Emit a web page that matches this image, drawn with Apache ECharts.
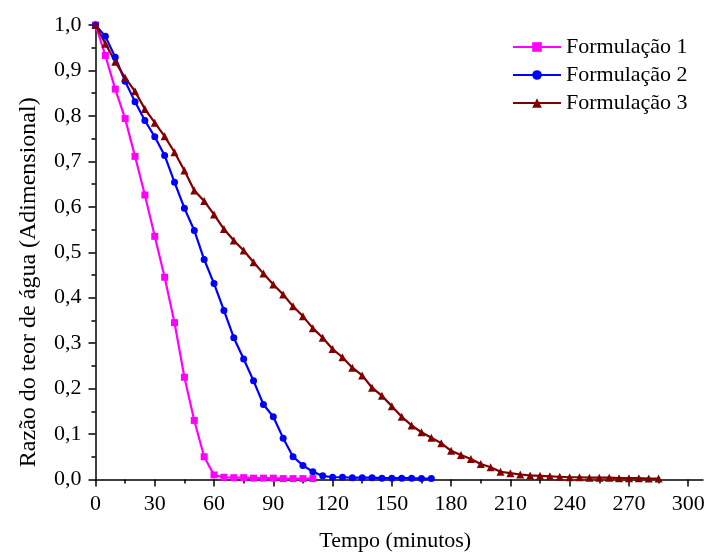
<!DOCTYPE html>
<html>
<head>
<meta charset="utf-8">
<script src="https://cdn.jsdelivr.net/npm/echarts@6/dist/echarts.min.js"></script>
<style>
html,body{margin:0;padding:0;background:#fff;}
#chart{width:707px;height:552px;}
</style>
</head>
<body>
<div id="chart"></div>
<script>
const seriesNames = ['Formulação 1', 'Formulação 2', 'Formulação 3'];
const t1 = [0,5,10,15,20,25,30,35,40,45,50,55,60,65,70,75,80,85,90,95,100,105,110];
const f1 = [1.0,0.933,0.859,0.794,0.711,0.626,0.535,0.445,0.345,0.225,0.130,0.050,0.010,0.005,0.004,0.004,0.003,0.003,0.003,0.002,0.002,0.002,0.002];
const t2 = [0,5,10,15,20,25,30,35,40,45,50,55,60,65,70,75,80,85,90,95,100,105,110,115,120,125,130,135,140,145,150,155,160,165,170];
const f2 = [1.0,0.975,0.929,0.876,0.831,0.790,0.754,0.713,0.654,0.597,0.548,0.484,0.431,0.372,0.312,0.265,0.217,0.165,0.138,0.091,0.050,0.031,0.017,0.008,0.005,0.005,0.004,0.004,0.004,0.003,0.003,0.003,0.003,0.002,0.002];
const t3 = [0,5,10,15,20,25,30,35,40,45,50,55,60,65,70,75,80,85,90,95,100,105,110,115,120,125,130,135,140,145,150,155,160,165,170,175,180,185,190,195,200,205,210,215,220,225,230,235,240,245,250,255,260,265,270,275,280,285];
const f3 = [1.0,0.959,0.919,0.884,0.854,0.815,0.785,0.755,0.720,0.680,0.636,0.613,0.583,0.551,0.526,0.504,0.478,0.453,0.429,0.407,0.381,0.359,0.333,0.312,0.287,0.269,0.246,0.229,0.202,0.184,0.161,0.138,0.119,0.104,0.092,0.080,0.063,0.054,0.045,0.034,0.027,0.017,0.014,0.011,0.009,0.008,0.007,0.006,0.005,0.005,0.004,0.004,0.004,0.003,0.003,0.003,0.002,0.002];
const xMajorTicks = [0,30,60,90,120,150,180,210,240,270,300];
const xMinorTicks = [15,45,75,105,135,165,195,225,255,285];

const pairs = (t, v) => t.map((x, i) => [x, v[i]]);
const FONT = 'Liberation Serif';
const FS = 22;
const chart = echarts.init(document.getElementById('chart'), null, {renderer: 'canvas'});
const axisLineStyle = {color: '#000', width: 1.5};
chart.setOption({
  animation: false,
  backgroundColor: '#fff',
  grid: {left: 95.5, right: 4, top: 25, bottom: 72.5, containLabel: false, outerBoundsMode: 'none'},
  legend: {
    orient: 'vertical', left: 512, top: 36, padding: 0, itemWidth: 48, itemHeight: 12, itemGap: 6,
    textStyle: {fontFamily: FONT, fontSize: FS, color: '#000'},
    data: seriesNames
  },
  xAxis: [{
    type: 'value', min: 0, max: 307.5, position: 'bottom',
    name: 'Tempo (minutos)', nameLocation: 'middle', nameGap: 51,
    nameTextStyle: {fontFamily: FONT, fontSize: FS, color: '#000', padding: [0, 8, 0, 0]},
    axisLine: {show: true, onZero: false, lineStyle: axisLineStyle},
    axisTick: {show: true, inside: false, length: 7, customValues: xMajorTicks, lineStyle: axisLineStyle},
    axisLabel: {customValues: xMajorTicks, fontFamily: FONT, fontSize: FS, color: '#000', margin: 14},
    splitLine: {show: false}
  }, {
    type: 'value', min: 0, max: 307.5, position: 'bottom',
    axisLine: {show: false, onZero: false},
    axisTick: {show: true, inside: false, length: 4, customValues: xMinorTicks, lineStyle: axisLineStyle},
    axisLabel: {show: false},
    splitLine: {show: false}
  }],
  yAxis: {
    type: 'value', min: 0, max: 1, interval: 0.1,
    name: 'Razão do teor de água (Adimensional)', nameLocation: 'middle', nameGap: 55,
    nameTextStyle: {fontFamily: FONT, fontSize: 24, color: '#000', padding: [0, 60, 0, 0]},
    axisLine: {show: true, lineStyle: axisLineStyle},
    axisTick: {show: true, inside: false, length: 7, lineStyle: axisLineStyle},
    minorTick: {show: true, splitNumber: 2, length: 4, lineStyle: {color: '#000', width: 1.5}},
    axisLabel: {fontFamily: FONT, fontSize: FS, color: '#000', margin: 14,
      formatter: v => v.toFixed(1).replace('.', ',')},
    splitLine: {show: false}
  },
  series: [{
    name: seriesNames[0], type: 'line', xAxisIndex: 0, data: pairs(t1, f1),
    symbol: 'rect', symbolSize: 7, color: '#FF00FF',
    lineStyle: {width: 2.2, color: '#FF00FF'}, itemStyle: {color: '#FF00FF'}
  }, {
    name: seriesNames[1], type: 'line', xAxisIndex: 0, data: pairs(t2, f2),
    symbol: 'circle', symbolSize: 7, color: '#0000FF',
    lineStyle: {width: 2.2, color: '#0000FF'}, itemStyle: {color: '#0000FF'}
  }, {
    name: seriesNames[2], type: 'line', xAxisIndex: 0, data: pairs(t3, f3),
    symbol: 'triangle', symbolSize: 8, color: '#800000',
    lineStyle: {width: 2.2, color: '#800000'}, itemStyle: {color: '#800000'}
  }]
});
</script>
</body>
</html>
